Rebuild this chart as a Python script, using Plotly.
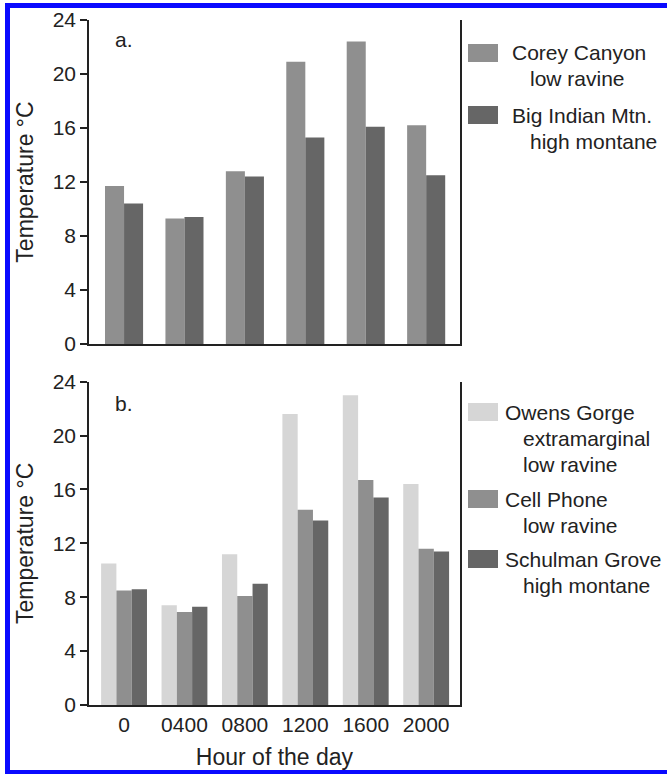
import plotly.graph_objects as go

hours = ["0", "0400", "0800", "1200", "1600", "2000"]

# Panel a
corey_canyon = [11.7, 9.3, 12.8, 20.9, 22.4, 16.2]
big_indian = [10.4, 9.4, 12.4, 15.3, 16.1, 12.5]
names_a = ["Corey Canyon", "Big Indian Mtn."]
sub_a = [["low ravine"], ["high montane"]]

# Panel b
owens_gorge = [10.5, 7.4, 11.2, 21.6, 23.0, 16.4]
cell_phone = [8.5, 6.9, 8.1, 14.5, 16.7, 11.6]
schulman = [8.6, 7.3, 9.0, 13.7, 15.4, 11.4]
names_b = ["Owens Gorge", "Cell Phone", "Schulman Grove"]
sub_b = [["extramarginal", "low ravine"], ["low ravine"], ["high montane"]]

y_ticks = [0, 4, 8, 12, 16, 20, 24]

LIGHT = "#d6d6d6"
MID = "#8f8f8f"
DARK = "#666666"
INK = "#222222"
FONT = "Liberation Sans, Arial, sans-serif"

W, H = 667, 774
ML, MR, MT, MB = 89, 207, 20, 69
PW, PH = W - ML - MR, H - MT - MB


def px(x):
    return (x - ML) / PW


def py(y):
    return (H - MB - y) / PH


fig = go.Figure()

wa = 0.315
for vals, col, off in [(corey_canyon, MID, -wa), (big_indian, DARK, 0.0)]:
    fig.add_trace(go.Bar(x=hours, y=vals, marker=dict(color=col, line=dict(width=0)),
                         width=wa, offset=off, xaxis="x", yaxis="y", showlegend=False))

wb = 0.253
for vals, col, off in [(owens_gorge, LIGHT, -1.5 * wb), (cell_phone, MID, -0.5 * wb),
                       (schulman, DARK, 0.5 * wb)]:
    fig.add_trace(go.Bar(x=hours, y=vals, marker=dict(color=col, line=dict(width=0)),
                         width=wb, offset=off, xaxis="x2", yaxis="y2", showlegend=False))

xrange = [-0.58, 5.56]
yax = dict(range=[0, 24], tickvals=y_ticks, ticks="outside", ticklen=7, tickwidth=1.5,
           tickcolor=INK, showline=True, linecolor=INK, linewidth=1.5, mirror=True,
           showgrid=False, zeroline=False,
           tickfont=dict(family=FONT, size=21, color=INK),
           title=dict(text="Temperature °C", font=dict(family=FONT, size=23, color=INK),
                      standoff=13))
xax = dict(type="category", range=xrange, showline=True, linecolor=INK, linewidth=1.5,
           showgrid=False, zeroline=False, ticks="",
           tickfont=dict(family=FONT, size=21, color=INK))

fig.update_layout(
    width=W, height=H,
    margin=dict(l=ML, r=MR, t=MT, b=MB, autoexpand=False),
    paper_bgcolor="white", plot_bgcolor="white",
    barmode="overlay",
    xaxis=dict(xax, domain=[0, 1], anchor="y", showticklabels=False),
    yaxis=dict(yax, domain=[py(344), 1.0], anchor="x"),
    xaxis2=dict(xax, domain=[0, 1], anchor="y2", showticklabels=True,
                title=dict(text="Hour of the day", font=dict(family=FONT, size=23, color=INK),
                           standoff=14)),
    yaxis2=dict(yax, domain=[0, py(381.7)], anchor="x2"),
    font=dict(family=FONT, color=INK),
)

ann = []
shapes = []

# panel labels
ann.append(dict(text="a.", x=px(113), y=py(40), xref="paper", yref="paper",
                xanchor="left", yanchor="middle", showarrow=False,
                font=dict(family=FONT, size=21, color=INK)))
ann.append(dict(text="b.", x=px(113), y=py(403), xref="paper", yref="paper",
                xanchor="left", yanchor="middle", showarrow=False,
                font=dict(family=FONT, size=21, color=INK)))


def legend_entry(color, name, subs, y_top, x_text, x_sub):
    shapes.append(dict(type="rect", xref="paper", yref="paper",
                       x0=px(468), x1=px(498), y0=py(y_top), y1=py(y_top + 18),
                       fillcolor=color, line=dict(width=0)))
    ann.append(dict(text=name, x=px(x_text), y=py(y_top + 9), xref="paper", yref="paper",
                    xanchor="left", yanchor="middle", showarrow=False,
                    font=dict(family=FONT, size=21, color=INK)))
    for i, s in enumerate(subs):
        ann.append(dict(text=s, x=px(x_sub), y=py(y_top + 9 + 26 * (i + 1)), xref="paper",
                        yref="paper", xanchor="left", yanchor="middle", showarrow=False,
                        font=dict(family=FONT, size=21, color=INK)))


legend_entry(MID, names_a[0], sub_a[0], 44, 510, 528)
legend_entry(DARK, names_a[1], sub_a[1], 106, 510, 528)
legend_entry(LIGHT, names_b[0], sub_b[0], 403, 503, 521)
legend_entry(MID, names_b[1], sub_b[1], 490, 503, 521)
legend_entry(DARK, names_b[2], sub_b[2], 550, 503, 521)

# blue frame: left, top and bottom edges (right edge is cropped in the original)
BLUE = "#0a0aff"
for x0, y0, x1, y1 in [(7.5, 3, 7.5, 776), (5, 5.5, 700, 5.5), (5, 772.5, 700, 772.5)]:
    shapes.append(dict(type="line", xref="paper", yref="paper",
                       x0=px(x0), y0=py(y0), x1=px(x1), y1=py(y1),
                       line=dict(color=BLUE, width=5)))

fig.update_layout(annotations=ann, shapes=shapes)

fig.write_html("out.html", config={"displayModeBar": False},
               post_script="document.body.style.margin='0';document.body.style.overflow='hidden';")
